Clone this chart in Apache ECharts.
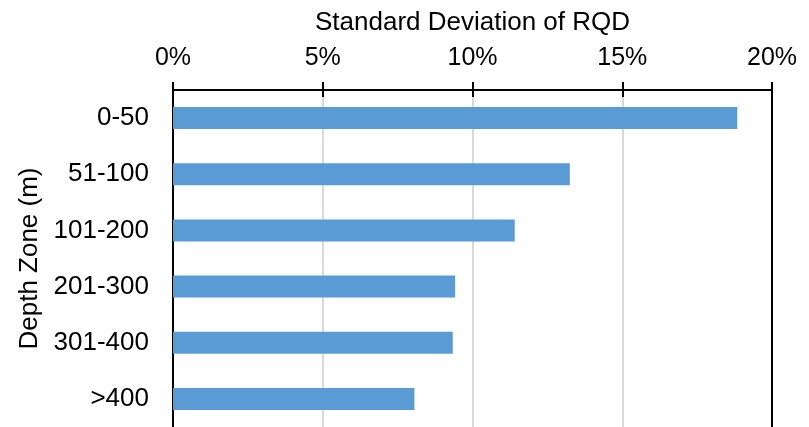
<!DOCTYPE html>
<html>
<head>
<meta charset="utf-8">
<script src="https://cdn.jsdelivr.net/npm/echarts@6/dist/echarts.min.js"></script>
<style>html,body{margin:0;padding:0;background:#fff;}#c{width:809px;height:427px;}</style>
</head>
<body>
<div id="c"></div>
<script>
const categories = ['0-50', '51-100', '101-200', '201-300', '301-400', '>400'];
const stdDev = [18.84, 13.25, 11.41, 9.42, 9.34, 8.06];
const xTicks = [0, 5, 10, 15, 20];
const xTitle = 'Standard Deviation of RQD';
const yTitle = 'Depth Zone (m)';

const font = 'Liberation Sans, Arial, sans-serif';
const chart = echarts.init(document.getElementById('c'), null, {renderer: 'canvas'});
chart.setOption({
  animation: false,
  grid: {left: 173, right: 37, top: 90, height: 339, containLabel: false},
  xAxis: [{
    type: 'value', position: 'top', min: xTicks[0], max: xTicks[xTicks.length - 1], interval: 5,
    name: xTitle, nameLocation: 'middle', nameGap: 54,
    nameTextStyle: {fontFamily: font, fontSize: 26, color: '#000'},
    axisLine: {show: true, lineStyle: {color: '#000', width: 2}},
    axisTick: {show: true, length: 8, lineStyle: {color: '#000', width: 2}},
    axisLabel: {formatter: v => v + '%', fontFamily: font, fontSize: 25, color: '#000', margin: 19},
    splitLine: {show: true, lineStyle: {color: ['#000', '#d9d9d9', '#d9d9d9', '#d9d9d9', '#000'], width: 2}}
  }, {
    type: 'value', position: 'top', min: xTicks[0], max: xTicks[xTicks.length - 1], interval: 5,
    axisLine: {show: false},
    axisTick: {show: true, inside: true, length: 7, lineStyle: {color: '#000', width: 2}},
    axisLabel: {show: false}, splitLine: {show: false}
  }],
  yAxis: {
    type: 'category', data: categories, inverse: true,
    name: yTitle, nameLocation: 'middle', nameGap: 127, nameRotate: 90,
    nameTextStyle: {fontFamily: font, fontSize: 26, color: '#000'},
    axisLine: {show: true, lineStyle: {color: '#000', width: 2}},
    axisTick: {show: false},
    axisLabel: {fontFamily: font, fontSize: 26, color: '#000', margin: 24}
  },
  series: [{
    type: 'bar', data: stdDev, barWidth: 22, xAxisIndex: 0,
    itemStyle: {color: '#5b9bd5'}
  }]
});
</script>
</body>
</html>
